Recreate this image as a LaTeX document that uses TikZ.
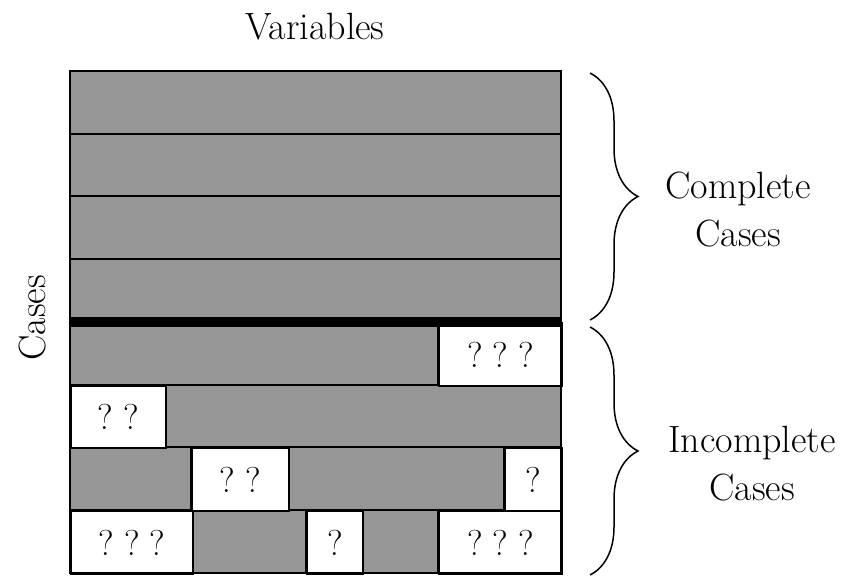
\documentclass[tikz,border=0pt]{standalone}
\usepackage{tikz}
\usetikzlibrary{decorations.pathreplacing}
\definecolor{CellGray}{RGB}{150,150,150}
\tikzset{
  cell/.style={draw=black,line width=1pt,fill=CellGray},
  miss/.style={draw=black,line width=1pt,fill=white,anchor=north west,
    inner sep=0pt,font=\fontsize{18}{21}\selectfont},
  lbl/.style={align=center,font=\fontsize{19}{24}\selectfont},
  grp/.style={decorate,decoration={brace,amplitude=24pt},line width=0.75pt}
}

\begin{document}
\begin{tikzpicture}[x=0.5pt,y=-0.5pt]
    \useasboundingbox (0,0) rectangle (851,576);

    % complete rows
    \foreach \r in {0,...,3}
      \draw[cell] (70,{71+62.75*\r}) rectangle (561,{71+62.75*(\r+1)});

    % observed parts of the incomplete rows
    \foreach \xa/\xb/\r in {70/438/4,165/561/5,70/191/6,288/504/6,192/306/7,362/438/7}
      \draw[cell] (\xa,{71+62.75*\r}) rectangle (\xb,{71+62.75*(\r+1)});

    % missing values
    \foreach \n/\xa/\xb/\r/\q in {1/438/561/4/{?\;?\;?},2/70/165/5/{?\;?},3/191/288/6/{?\;?},
        4/504/561/6/{?},5/70/192/7/{?\;?\;?},6/306/362/7/{?},7/438/561/7/{?\;?\;?}}
      \node[miss,minimum width={(\xb-\xa)*0.5pt},minimum height=31.375pt] (m\n)
        at (\xa,{71+62.75*\r}) {\q};

    \draw[line width=5pt] (70,322) -- (561,322);
    \draw[line width=1pt] (70,71) rectangle (561,573);

    \node[lbl,anchor=base] (vars) at (315,40) {Variables};
    \node[lbl,rotate=90] (cases) at (33,318) {Cases};

    \draw[grp] (590,73) -- (590,320);
    \draw[grp] (590,327) -- (590,575);
    \node[lbl] (cc) at (738,210) {Complete\\Cases};
    \node[lbl] (ic) at (752,464) {Incomplete\\Cases};
\end{tikzpicture}
\end{document}
